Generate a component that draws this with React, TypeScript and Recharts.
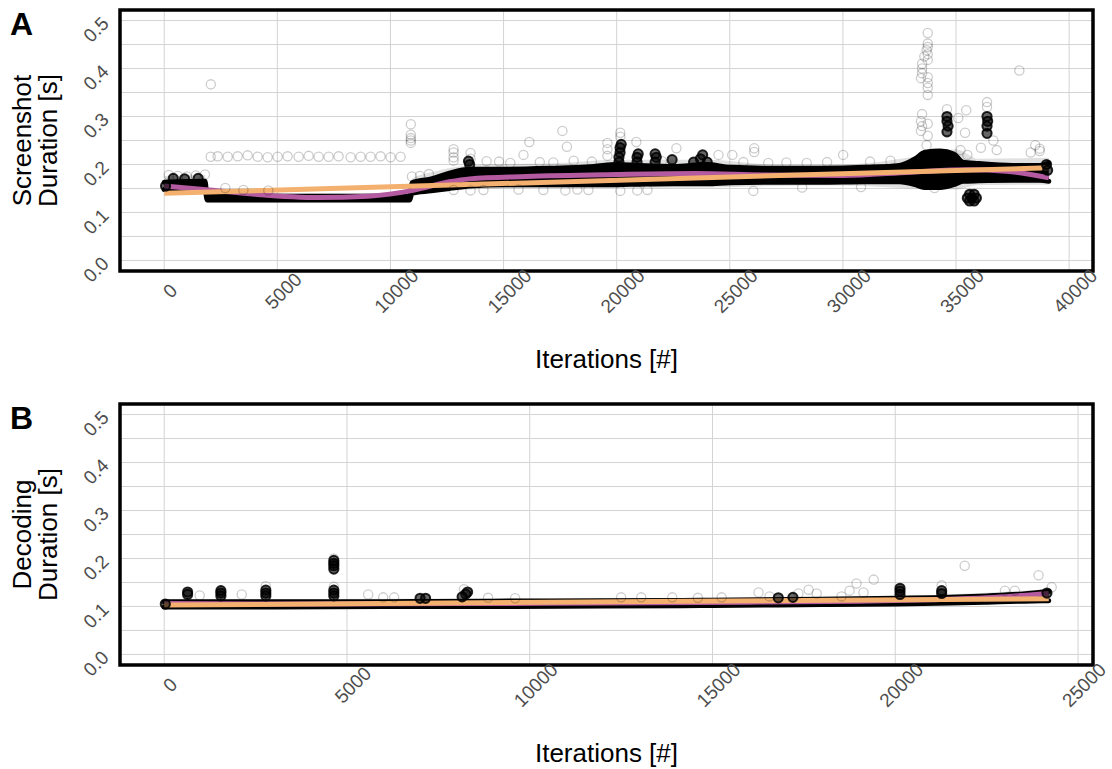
import React from 'react';
import {
  ComposedChart,
  XAxis,
  YAxis,
  CartesianGrid,
  Scatter,
  Line,
  Area,
  ReferenceArea,
} from 'recharts';

const FONT = '"Liberation Sans", Arial, Helvetica, sans-serif';
const PURPLE = '#b45aa0';
const ORANGE = '#f3b06f';

// Shared y scale for both panels (seconds)
const durationYTicks = [0, 0.05, 0.1, 0.15, 0.2, 0.25, 0.3, 0.35, 0.4, 0.45, 0.5];
const durationDomain = [-0.022, 0.522];

// ---------- Panel A: screenshot duration ----------
const screenshotXTicks = [0, 5000, 10000, 15000, 20000, 25000, 30000, 35000, 40000];
const screenshotXDomain = [-1955, 41055];

// dense core of overlapping points (lower / upper edge)
const screenshotBand = [
  { x: 0, lo: 0.148, hi: 0.163 },
  { x: 1800, lo: 0.148, hi: 0.165 },
  { x: 1900, lo: 0.126, hi: 0.134 },
  { x: 10850, lo: 0.126, hi: 0.134 },
  { x: 10950, lo: 0.14, hi: 0.162 },
  { x: 11800, lo: 0.145, hi: 0.17 },
  { x: 12600, lo: 0.15, hi: 0.182 },
  { x: 13500, lo: 0.155, hi: 0.19 },
  { x: 15000, lo: 0.158, hi: 0.19 },
  { x: 17000, lo: 0.158, hi: 0.192 },
  { x: 19000, lo: 0.158, hi: 0.196 },
  { x: 20000, lo: 0.158, hi: 0.2 },
  { x: 21000, lo: 0.159, hi: 0.198 },
  { x: 22500, lo: 0.16, hi: 0.196 },
  { x: 24000, lo: 0.16, hi: 0.2 },
  { x: 25000, lo: 0.162, hi: 0.194 },
  { x: 27000, lo: 0.163, hi: 0.192 },
  { x: 29000, lo: 0.163, hi: 0.192 },
  { x: 31000, lo: 0.164, hi: 0.194 },
  { x: 32500, lo: 0.164, hi: 0.198 },
  { x: 33200, lo: 0.158, hi: 0.212 },
  { x: 33600, lo: 0.152, hi: 0.225 },
  { x: 34300, lo: 0.152, hi: 0.228 },
  { x: 34900, lo: 0.158, hi: 0.222 },
  { x: 35300, lo: 0.165, hi: 0.205 },
  { x: 36000, lo: 0.166, hi: 0.202 },
  { x: 37500, lo: 0.167, hi: 0.198 },
  { x: 38700, lo: 0.167, hi: 0.198 },
  { x: 39100, lo: 0.165, hi: 0.203 },
];

// sparser fringe around the core
const screenshotFringe = [
  { x: 0, lo: 0.143, hi: 0.176 },
  { x: 1800, lo: 0.143, hi: 0.178 },
  { x: 1900, lo: 0.12, hi: 0.14 },
  { x: 10850, lo: 0.12, hi: 0.14 },
  { x: 10950, lo: 0.136, hi: 0.17 },
  { x: 12000, lo: 0.142, hi: 0.186 },
  { x: 14000, lo: 0.149, hi: 0.2 },
  { x: 17000, lo: 0.151, hi: 0.202 },
  { x: 20000, lo: 0.151, hi: 0.21 },
  { x: 24000, lo: 0.152, hi: 0.21 },
  { x: 27000, lo: 0.155, hi: 0.2 },
  { x: 30000, lo: 0.156, hi: 0.2 },
  { x: 33000, lo: 0.15, hi: 0.215 },
  { x: 35000, lo: 0.148, hi: 0.232 },
  { x: 36000, lo: 0.157, hi: 0.212 },
  { x: 39100, lo: 0.158, hi: 0.214 },
];

const screenshotLoess = [
  { x: 0, y: 0.155 },
  { x: 2000, y: 0.147 },
  { x: 4000, y: 0.138 },
  { x: 6800, y: 0.131 },
  { x: 9000, y: 0.134 },
  { x: 11000, y: 0.146 },
  { x: 12600, y: 0.164 },
  { x: 13500, y: 0.17 },
  { x: 16000, y: 0.175 },
  { x: 20000, y: 0.179 },
  { x: 23500, y: 0.181 },
  { x: 26500, y: 0.178 },
  { x: 30000, y: 0.177 },
  { x: 33000, y: 0.184 },
  { x: 35500, y: 0.189 },
  { x: 37200, y: 0.186 },
  { x: 39100, y: 0.172 },
];

const screenshotLinear = [
  { x: 0, y: 0.14 },
  { x: 39100, y: 0.193 },
];

// isolated slow iterations
const screenshotOutliers = [
  { x: 200, y: 0.178 }, { x: 600, y: 0.176 }, { x: 1000, y: 0.175 }, { x: 1400, y: 0.177 }, { x: 1800, y: 0.179 },
  { x: 2060, y: 0.367 },
  { x: 2054, y: 0.216 }, { x: 2363, y: 0.217 }, { x: 2805, y: 0.216 }, { x: 3247, y: 0.217 }, { x: 3688, y: 0.219 },
  { x: 4130, y: 0.216 }, { x: 4572, y: 0.215 }, { x: 5013, y: 0.216 }, { x: 5455, y: 0.217 }, { x: 5941, y: 0.216 },
  { x: 6383, y: 0.218 }, { x: 6824, y: 0.216 }, { x: 7266, y: 0.216 }, { x: 7708, y: 0.217 }, { x: 8238, y: 0.215 },
  { x: 8680, y: 0.216 }, { x: 9121, y: 0.216 }, { x: 9563, y: 0.217 }, { x: 10005, y: 0.215 }, { x: 10447, y: 0.216 },
  { x: 2700, y: 0.151 }, { x: 3500, y: 0.147 }, { x: 4600, y: 0.146 },
  { x: 10900, y: 0.284 }, { x: 10900, y: 0.262 }, { x: 10900, y: 0.255 }, { x: 10900, y: 0.25 }, { x: 10900, y: 0.245 },
  { x: 10950, y: 0.175 }, { x: 11300, y: 0.176 }, { x: 11700, y: 0.18 },
  { x: 12790, y: 0.232 }, { x: 12790, y: 0.225 }, { x: 12790, y: 0.215 }, { x: 12790, y: 0.208 },
  { x: 13540, y: 0.224 }, { x: 13540, y: 0.212 }, { x: 14250, y: 0.207 }, { x: 15880, y: 0.22 },
  { x: 16140, y: 0.247 }, { x: 17600, y: 0.27 }, { x: 17800, y: 0.237 },
  { x: 19590, y: 0.245 }, { x: 19590, y: 0.232 }, { x: 19590, y: 0.218 },
  { x: 20160, y: 0.266 }, { x: 20160, y: 0.258 }, { x: 20870, y: 0.247 }, { x: 22640, y: 0.234 },
  { x: 24500, y: 0.22 }, { x: 25110, y: 0.22 }, { x: 26080, y: 0.234 }, { x: 26080, y: 0.226 }, { x: 30010, y: 0.22 },
  { x: 14800, y: 0.206 }, { x: 15300, y: 0.203 }, { x: 16600, y: 0.205 }, { x: 17200, y: 0.204 }, { x: 18100, y: 0.208 },
  { x: 18900, y: 0.206 }, { x: 22000, y: 0.207 }, { x: 25600, y: 0.205 }, { x: 26700, y: 0.203 }, { x: 27500, y: 0.204 },
  { x: 28400, y: 0.203 }, { x: 29300, y: 0.205 }, { x: 31200, y: 0.206 }, { x: 32100, y: 0.208 },
  { x: 12790, y: 0.147 }, { x: 13540, y: 0.146 }, { x: 14110, y: 0.147 }, { x: 15660, y: 0.148 }, { x: 16760, y: 0.147 },
  { x: 17730, y: 0.146 }, { x: 18260, y: 0.148 }, { x: 18750, y: 0.147 }, { x: 20160, y: 0.145 }, { x: 20910, y: 0.146 },
  { x: 21360, y: 0.147 }, { x: 26040, y: 0.145 }, { x: 28200, y: 0.152 }, { x: 30800, y: 0.153 },
  { x: 33750, y: 0.474 }, { x: 33750, y: 0.452 }, { x: 33750, y: 0.445 }, { x: 33700, y: 0.438 }, { x: 33750, y: 0.43 },
  { x: 33600, y: 0.425 }, { x: 33750, y: 0.418 }, { x: 33500, y: 0.41 }, { x: 33500, y: 0.4 }, { x: 33500, y: 0.39 },
  { x: 33450, y: 0.38 }, { x: 33750, y: 0.382 }, { x: 33750, y: 0.37 }, { x: 33750, y: 0.36 }, { x: 33750, y: 0.345 },
  { x: 33500, y: 0.305 }, { x: 33450, y: 0.29 }, { x: 33500, y: 0.28 }, { x: 33450, y: 0.27 }, { x: 33750, y: 0.285 },
  { x: 33750, y: 0.26 }, { x: 33700, y: 0.24 },
  { x: 34600, y: 0.315 }, { x: 36370, y: 0.33 }, { x: 36370, y: 0.32 },
  { x: 35100, y: 0.297 }, { x: 35450, y: 0.313 }, { x: 35400, y: 0.266 }, { x: 36650, y: 0.25 }, { x: 37800, y: 0.396 },
  { x: 34050, y: 0.151 }, { x: 35200, y: 0.23 }, { x: 35500, y: 0.22 }, { x: 36100, y: 0.235 }, { x: 36800, y: 0.23 },
  { x: 38500, y: 0.24 }, { x: 38700, y: 0.233 }, { x: 38700, y: 0.228 }, { x: 38300, y: 0.225 },
];

// tightly packed groups of points that read as solid marks
const screenshotClusters = [
  { x: 60, y: 0.155 }, { x: 400, y: 0.171 }, { x: 900, y: 0.17 }, { x: 1500, y: 0.171 },
  { x: 13500, y: 0.2 }, { x: 13450, y: 0.207 },
  { x: 20100, y: 0.205 }, { x: 20100, y: 0.215 }, { x: 20150, y: 0.225 }, { x: 20150, y: 0.235 }, { x: 20200, y: 0.242 },
  { x: 20900, y: 0.205 }, { x: 20900, y: 0.215 }, { x: 20950, y: 0.222 },
  { x: 21700, y: 0.205 }, { x: 21750, y: 0.215 }, { x: 21700, y: 0.222 },
  { x: 22450, y: 0.21 },
  { x: 23400, y: 0.205 }, { x: 23700, y: 0.212 }, { x: 24000, y: 0.205 }, { x: 23800, y: 0.22 },
  { x: 34600, y: 0.3 }, { x: 34600, y: 0.29 }, { x: 34650, y: 0.28 }, { x: 34600, y: 0.268 },
  { x: 36370, y: 0.3 }, { x: 36400, y: 0.29 }, { x: 36370, y: 0.28 }, { x: 36370, y: 0.265 },
  { x: 35500, y: 0.13 }, { x: 35700, y: 0.13 }, { x: 35900, y: 0.13 }, { x: 35600, y: 0.138 },
  { x: 35800, y: 0.138 }, { x: 35600, y: 0.124 }, { x: 35800, y: 0.124 },
  { x: 39000, y: 0.2 }, { x: 39050, y: 0.188 },
];

// ---------- Panel B: decoding duration ----------
const decodingXTicks = [0, 5000, 10000, 15000, 20000, 25000];
const decodingXDomain = [-1210, 25410];

const decodingBand = [
  { x: 0, lo: 0.099, hi: 0.11 },
  { x: 3000, lo: 0.099, hi: 0.11 },
  { x: 6000, lo: 0.1, hi: 0.11 },
  { x: 9000, lo: 0.1, hi: 0.111 },
  { x: 12000, lo: 0.101, hi: 0.112 },
  { x: 15000, lo: 0.102, hi: 0.113 },
  { x: 18000, lo: 0.104, hi: 0.115 },
  { x: 20000, lo: 0.105, hi: 0.117 },
  { x: 21500, lo: 0.107, hi: 0.119 },
  { x: 22500, lo: 0.109, hi: 0.122 },
  { x: 23500, lo: 0.111, hi: 0.126 },
  { x: 24200, lo: 0.112, hi: 0.131 },
];

const decodingFringe = [
  { x: 0, lo: 0.096, hi: 0.115 },
  { x: 6000, lo: 0.097, hi: 0.116 },
  { x: 12000, lo: 0.098, hi: 0.117 },
  { x: 18000, lo: 0.1, hi: 0.12 },
  { x: 21000, lo: 0.103, hi: 0.124 },
  { x: 24200, lo: 0.108, hi: 0.136 },
];

const decodingLoess = [
  { x: 0, y: 0.106 },
  { x: 4000, y: 0.105 },
  { x: 8000, y: 0.106 },
  { x: 12000, y: 0.107 },
  { x: 16000, y: 0.109 },
  { x: 19000, y: 0.111 },
  { x: 21000, y: 0.114 },
  { x: 22500, y: 0.118 },
  { x: 23500, y: 0.123 },
  { x: 24200, y: 0.127 },
];

const decodingLinear = [
  { x: 0, y: 0.103 },
  { x: 24200, y: 0.116 },
];

const decodingOutliers = [
  { x: 970, y: 0.123 }, { x: 2120, y: 0.125 }, { x: 5580, y: 0.125 }, { x: 5990, y: 0.119 }, { x: 6290, y: 0.119 },
  { x: 8860, y: 0.118 }, { x: 9600, y: 0.117 },
  { x: 12500, y: 0.119 }, { x: 13050, y: 0.119 }, { x: 13900, y: 0.119 }, { x: 14600, y: 0.118 }, { x: 15250, y: 0.119 },
  { x: 16260, y: 0.129 }, { x: 16560, y: 0.121 }, { x: 17350, y: 0.127 }, { x: 17630, y: 0.135 }, { x: 17850, y: 0.127 },
  { x: 18530, y: 0.121 }, { x: 18750, y: 0.133 }, { x: 18940, y: 0.148 }, { x: 19130, y: 0.129 }, { x: 19410, y: 0.156 },
  { x: 21270, y: 0.144 }, { x: 21900, y: 0.185 }, { x: 23000, y: 0.133 }, { x: 23270, y: 0.133 }, { x: 23920, y: 0.165 },
  { x: 24280, y: 0.14 }, { x: 2780, y: 0.142 }, { x: 4640, y: 0.141 }, { x: 4640, y: 0.2 }, { x: 8200, y: 0.136 },
];

const decodingClusters = [
  { x: 30, y: 0.105 },
  { x: 640, y: 0.125 }, { x: 640, y: 0.13 },
  { x: 1550, y: 0.122 }, { x: 1550, y: 0.128 }, { x: 1550, y: 0.133 },
  { x: 2780, y: 0.122 }, { x: 2780, y: 0.128 }, { x: 2780, y: 0.134 },
  { x: 4640, y: 0.178 }, { x: 4640, y: 0.185 }, { x: 4640, y: 0.19 }, { x: 4640, y: 0.196 },
  { x: 4640, y: 0.122 }, { x: 4640, y: 0.128 }, { x: 4640, y: 0.134 },
  { x: 7000, y: 0.117 }, { x: 7150, y: 0.117 },
  { x: 8150, y: 0.12 }, { x: 8250, y: 0.126 }, { x: 8300, y: 0.13 },
  { x: 16800, y: 0.118 }, { x: 17200, y: 0.119 },
  { x: 20130, y: 0.125 }, { x: 20130, y: 0.132 }, { x: 20130, y: 0.138 },
  { x: 21270, y: 0.127 }, { x: 21270, y: 0.133 },
  { x: 24150, y: 0.128 },
];

const Ring = (p: any) => (
  <circle cx={p.cx} cy={p.cy} r={4.6} fill="none" stroke="#000" strokeOpacity={0.2} strokeWidth={1.3} />
);

const DenseRing = (p: any) => (
  <circle cx={p.cx} cy={p.cy} r={4.6} fill="#000" fillOpacity={0.6} stroke="#000" strokeOpacity={0.85} strokeWidth={2} />
);

const XTick = (p: any) => (
  <g transform={`translate(${p.x + 6},${p.y + 20}) rotate(-45)`}>
    <text textAnchor="middle" dominantBaseline="central" fontFamily={FONT} fontSize={19} fill="#4d4d4d">
      {p.payload.value}
    </text>
  </g>
);

const YTick = (p: any) => {
  const v = p.payload.value;
  if (Math.round(v * 100) % 10 !== 0) return <g />;
  return (
    <g transform={`translate(${p.x - 24},${p.y + 9}) rotate(-45)`}>
      <text textAnchor="middle" dominantBaseline="central" fontFamily={FONT} fontSize={19} fill="#4d4d4d">
        {v.toFixed(1)}
      </text>
    </g>
  );
};

type PanelProps = {
  letter: string;
  titleLines: string[];
  xDomain: number[];
  xTicks: number[];
  band: { x: number; lo: number; hi: number }[];
  fringe: { x: number; lo: number; hi: number }[];
  loess: { x: number; y: number }[];
  linear: { x: number; y: number }[];
  outliers: { x: number; y: number }[];
  clusters: { x: number; y: number }[];
  height: number;
  top: number;
  xAxisHeight: number;
};

function Panel(props: PanelProps) {
  const { letter, titleLines, xDomain, xTicks, band, fringe, loess, linear, outliers, clusters, height, top, xAxisHeight } = props;
  const plotBottom = height - xAxisHeight;
  const midY = (top + plotBottom) / 2;
  const range = (d: any) => [d.lo, d.hi];

  return (
    <ComposedChart width={1112} height={height} margin={{ top, right: 19, bottom: 0, left: 0 }}>
      <CartesianGrid stroke="#d3d3d3" strokeWidth={1} />
      <XAxis
        type="number"
        dataKey="x"
        domain={xDomain}
        ticks={xTicks}
        interval={0}
        allowDataOverflow
        height={xAxisHeight}
        axisLine={false}
        tickLine={false}
        tickSize={0}
        tickMargin={0}
        tick={<XTick />}
        label={() => (
          <text x={606.5} y={plotBottom + 97} textAnchor="middle" fontFamily={FONT} fontSize={26} fill="#000">
            Iterations [#]
          </text>
        )}
      />
      <YAxis
        type="number"
        dataKey="y"
        domain={durationDomain}
        ticks={durationYTicks}
        interval={0}
        allowDataOverflow
        width={120}
        axisLine={false}
        tickLine={false}
        tickSize={0}
        tickMargin={0}
        tick={<YTick />}
        label={() => (
          <g>
            <text x={10} y={top + 25} fontFamily={FONT} fontSize={32} fontWeight="bold" fill="#000">
              {letter}
            </text>
            <text transform={`translate(31,${midY}) rotate(-90)`} textAnchor="middle" fontFamily={FONT} fontSize={26} fill="#000">
              {titleLines[0]}
            </text>
            <text transform={`translate(57,${midY}) rotate(-90)`} textAnchor="middle" fontFamily={FONT} fontSize={26} fill="#000">
              {titleLines[1]}
            </text>
          </g>
        )}
      />
      <Area
        data={fringe}
        dataKey={range}
        type="monotone"
        stroke="none"
        fill="#000"
        fillOpacity={0.12}
        isAnimationActive={false}
        dot={false}
        activeDot={false}
      />
      <Area
        data={band}
        dataKey={range}
        type="monotone"
        stroke="#000"
        strokeWidth={5}
        strokeLinejoin="round"
        strokeLinecap="round"
        fill="#000"
        fillOpacity={1}
        isAnimationActive={false}
        dot={false}
        activeDot={false}
      />
      <Scatter data={outliers} dataKey="y" shape={Ring} isAnimationActive={false} />
      <Scatter data={clusters} dataKey="y" shape={DenseRing} isAnimationActive={false} />
      <Line
        data={loess}
        dataKey="y"
        type="monotone"
        stroke={PURPLE}
        strokeWidth={5}
        dot={false}
        activeDot={false}
        isAnimationActive={false}
      />
      <Line
        data={linear}
        dataKey="y"
        type="linear"
        stroke={ORANGE}
        strokeWidth={5}
        dot={false}
        activeDot={false}
        isAnimationActive={false}
      />
      <ReferenceArea
        x1={xDomain[0]}
        x2={xDomain[1]}
        y1={durationDomain[0]}
        y2={durationDomain[1]}
        fill="none"
        stroke="#000"
        strokeWidth={3.5}
        ifOverflow="visible"
      />
    </ComposedChart>
  );
}

export default function App() {
  return (
    <div style={{ position: 'absolute', left: 0, top: 0, width: 1112, height: 769, background: '#fff' }}>
      <div style={{ position: 'absolute', left: 0, top: 0 }}>
        <Panel
          letter="A"
          titleLines={['Screenshot', 'Duration [s]']}
          xDomain={screenshotXDomain}
          xTicks={screenshotXTicks}
          band={screenshotBand}
          fringe={screenshotFringe}
          loess={screenshotLoess}
          linear={screenshotLinear}
          outliers={screenshotOutliers}
          clusters={screenshotClusters}
          height={385}
          top={10}
          xAxisHeight={114}
        />
      </div>
      <div style={{ position: 'absolute', left: 0, top: 385 }}>
        <Panel
          letter="B"
          titleLines={['Decoding', 'Duration [s]']}
          xDomain={decodingXDomain}
          xTicks={decodingXTicks}
          band={decodingBand}
          fringe={decodingFringe}
          loess={decodingLoess}
          linear={decodingLinear}
          outliers={decodingOutliers}
          clusters={decodingClusters}
          height={384}
          top={19}
          xAxisHeight={104}
        />
      </div>
    </div>
  );
}
